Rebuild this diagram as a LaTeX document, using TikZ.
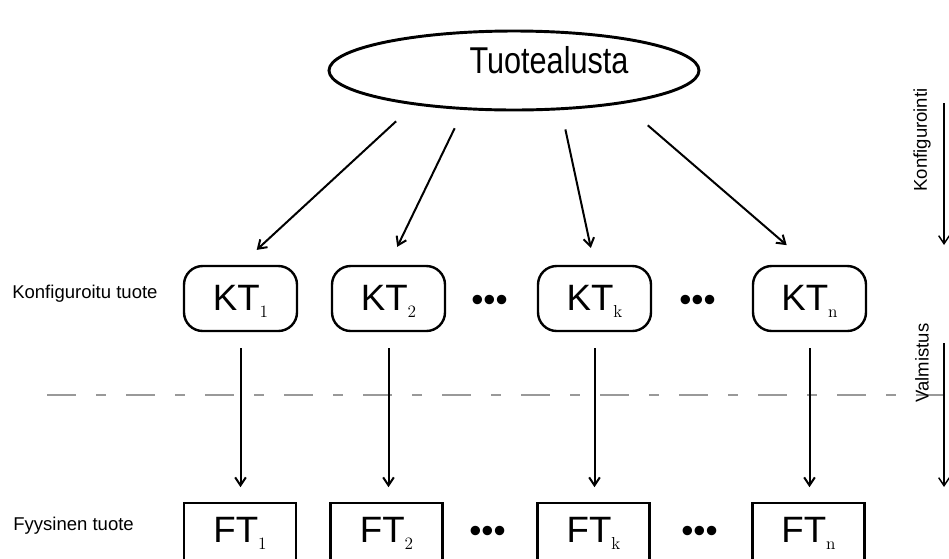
\documentclass[tikz,border=0pt]{standalone}
\usepackage{fontspec}
\usepackage{graphicx}
\newfontfamily\arial{Liberation Sans}
\usetikzlibrary{shapes.geometric,arrows.meta}

\newcommand{\ala}[1]{\raisebox{-5.25pt}{\rmfamily\fontsize{13}{13}\selectfont #1}}

\tikzset{
	pyorea/.style={draw, line width=1.8pt, inner sep=0pt, minimum width=84.75pt, text height=33pt, text depth=15.75pt, rounded corners=14pt, anchor=base, font={\arial\fontsize{27.5}{27.5}\selectfont}},
	suora/.style={draw, line width=1.8pt, inner sep=0pt, minimum width=84pt, text height=29.25pt, text depth=17.25pt, anchor=base, font={\arial\fontsize{27.5}{27.5}\selectfont}},
	pisteet/.style={inner sep=0pt, anchor=base, font={\arial\fontsize{26}{26}\selectfont}},
	selite/.style={inner sep=0pt, anchor=base west, font={\arial\fontsize{13.9}{14}\selectfont}},
	vaihe/.style={inner sep=0pt, rotate=90, font={\arial\fontsize{13.9}{14}\selectfont}},
	nuoli/.style={line width=1.5pt, -{Straight Barb[length=6pt,width=8pt]}},
	katko/.style={black!40, line width=1.2pt, dash pattern=on 21.75pt off 15pt on 7.5pt off 15pt}
}

\begin{document}
\begin{tikzpicture}[x=0.75pt,y=-0.75pt]
	\useasboundingbox (0,0) rectangle (949,558);
	\coordinate (viivaA) at (47,395);
	\coordinate (viivaB) at (949,395);
	\draw[katko] (viivaA) -- (viivaB);

	\node[ellipse, draw, line width=2.2pt, minimum width=277.5pt, minimum height=59.25pt, inner sep=0pt] (alusta) at (514,70.5) {};
	\node[anchor=base, inner sep=0pt, font={\arial\fontsize{28}{28}\selectfont}] (alustanimi) at (549,73) {\scalebox{0.82}[1]{Tuotealusta}};

	\node[selite] (kselite) at (12,298) {Konfiguroitu tuote};
	\node[selite] (fselite) at (13,530) {Fyysinen tuote};

	\node[pyorea] (kt1) at (240.5,310) {KT\ala{1}};
	\node[pyorea] (kt2) at (388.5,310) {KT\ala{2}};
	\node[pyorea] (ktk) at (594.5,310) {KT\ala{k}};
	\node[pyorea] (ktn) at (809.5,310) {KT\ala{n}};
	\node[pisteet] (kpist1) at (489.5,311) {\textbullet\textbullet\textbullet};
	\node[pisteet] (kpist2) at (697.5,311) {\textbullet\textbullet\textbullet};

	\node[suora] (ft1) at (240,542) {FT\ala{1}};
	\node[suora] (ft2) at (386.5,542) {FT\ala{2}};
	\node[suora] (ftk) at (593.5,542) {FT\ala{k}};
	\node[suora] (ftn) at (808.5,542) {FT\ala{n}};
	\node[pisteet] (fpist1) at (487.5,542) {\textbullet\textbullet\textbullet};
	\node[pisteet] (fpist2) at (699.5,542) {\textbullet\textbullet\textbullet};

	\draw[nuoli, shorten <=18pt, shorten >=16.5pt] (alusta.199.5) -- (kt1.north);
	\draw[nuoli, shorten <=15.3pt, shorten >=15pt] (alusta.218.5) -- (kt2.north);
	\draw[nuoli, shorten <=14.8pt, shorten >=13pt] (alusta.320) -- (ktk.north);
	\draw[nuoli, shorten <=24.7pt, shorten >=22.6pt] (alusta.343.9) -- (ktn.north);

	\draw[nuoli, shorten <=12pt, shorten >=11pt] (kt1.south) -- (kt1.south |- ft1.north);
	\draw[nuoli, shorten <=12pt, shorten >=11pt] (kt2.south) -- (kt2.south |- ft2.north);
	\draw[nuoli, shorten <=12pt, shorten >=11pt] (ktk.south) -- (ktk.south |- ftk.north);
	\draw[nuoli, shorten <=12pt, shorten >=11pt] (ktn.south) -- (ktn.south |- ftn.north);

	\node[vaihe] (konf) at (922,140) {Konfigurointi};
	\node[vaihe] (valm) at (922,363) {Valmistus};
	\coordinate (konfA) at (944,103);
	\coordinate (konfB) at (944,245);
	\coordinate (valmA) at (944,343);
	\coordinate (valmB) at (944,487);
	\draw[nuoli, line width=1.1pt] (konfA) -- (konfB);
	\draw[nuoli, line width=1.1pt] (valmA) -- (valmB);
\end{tikzpicture}
\end{document}
